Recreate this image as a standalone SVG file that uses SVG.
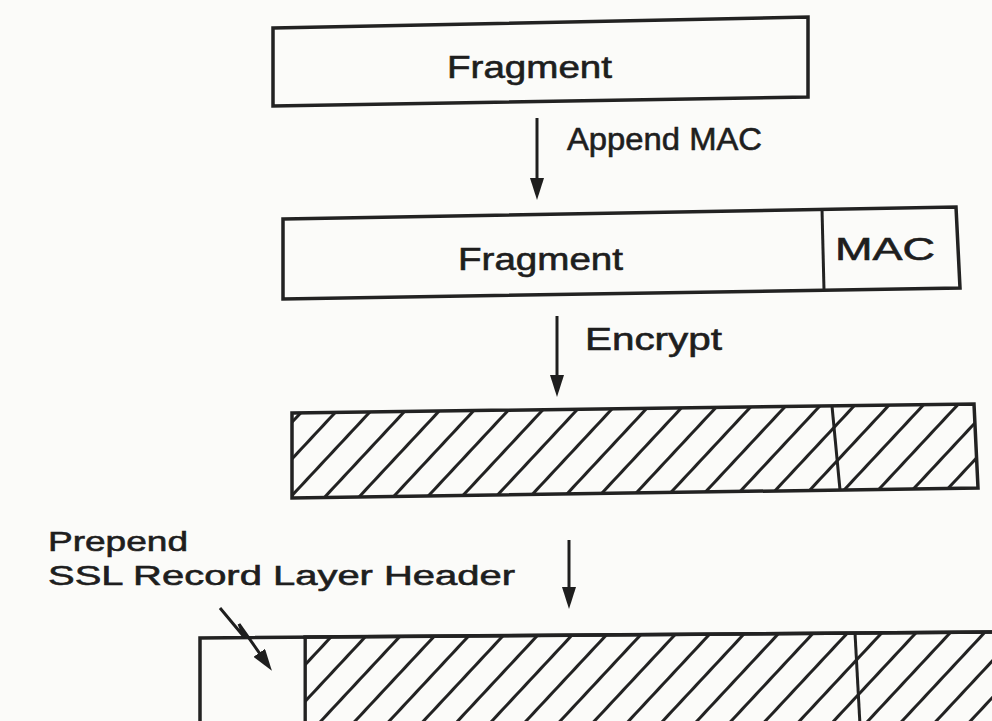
<svg xmlns="http://www.w3.org/2000/svg" width="992" height="721" viewBox="0 0 992 721">
  <style>
    .box { fill: none; stroke: #222; stroke-width: 3.5; stroke-linejoin: miter; }
    .hatched { fill: url(#hatch); stroke: #222; stroke-width: 3.5; }
    .div { stroke: #222; stroke-width: 3; }
    .lbl { font-family: "Liberation Sans", Arial, sans-serif; font-size: 31px; fill: #1e1e1e; stroke: #1e1e1e; stroke-width: 0.6; }
    .sm { font-size: 28px; }
    .conn { stroke: #1e1e1e; stroke-width: 3; fill: none; }
  </style>
  <defs>
    <pattern id="hatch" patternUnits="userSpaceOnUse" width="25" height="25" patternTransform="rotate(43)">
      <rect width="25" height="25" fill="#fbfbf9"/>
      <line x1="0" y1="-2" x2="0" y2="27" stroke="#222" stroke-width="6"/>
    </pattern>
    <marker id="ah" viewBox="0 0 22 14" markerWidth="22" markerHeight="14" refX="10" refY="7" orient="auto" markerUnits="userSpaceOnUse">
      <path d="M0,0 L22,7 L0,14 z" fill="#1e1e1e"/>
    </marker>
  </defs>
  <rect width="992" height="721" fill="#fbfbf9"/>

  <g id="box1">
    <polygon class="box" points="273,28 808,17 808,97 273,106"/>
    <text class="lbl" x="447" y="78" textLength="165" lengthAdjust="spacingAndGlyphs">Fragment</text>
  </g>

  <g id="box2">
    <polygon class="box" points="283,219 956,207 960,288 283,299"/>
    <line class="div" x1="822" y1="209" x2="824" y2="290"/>
    <text class="lbl" x="458" y="270" textLength="165" lengthAdjust="spacingAndGlyphs">Fragment</text>
    <text class="lbl" x="835" y="260" textLength="100" lengthAdjust="spacingAndGlyphs">MAC</text>
  </g>

  <g id="box3">
    <polygon class="hatched" points="292,413 974,404 978,488 292,498"/>
    <line class="div" x1="832" y1="406" x2="840" y2="490"/>
  </g>

  <g id="box4">
    <polygon class="hatched" points="305,637 995,632 995,725 305,725"/>
    <rect x="200" y="639" width="105" height="86" fill="#fbfbf9"/>
    <polyline class="box" points="200,725 200,638 995,632"/>
    <line class="div" x1="305" y1="637" x2="305" y2="725"/>
    <line class="div" x1="855" y1="633" x2="860" y2="725"/>
  </g>

  <g id="labels">
    <text class="lbl" x="567" y="150" textLength="195" lengthAdjust="spacingAndGlyphs">Append MAC</text>
    <text class="lbl" x="585" y="350" textLength="137" lengthAdjust="spacingAndGlyphs">Encrypt</text>
    <text class="lbl sm" x="48" y="551" textLength="140" lengthAdjust="spacingAndGlyphs">Prepend</text>
    <text class="lbl sm" x="48" y="585" textLength="467" lengthAdjust="spacingAndGlyphs">SSL Record Layer Header</text>
  </g>

  <g id="connectors">
    <line class="conn" x1="537" y1="118" x2="537" y2="188" marker-end="url(#ah)"/>
    <line class="conn" x1="557" y1="316" x2="557" y2="385" marker-end="url(#ah)"/>
    <line class="conn" x1="569" y1="540" x2="569" y2="597" marker-end="url(#ah)"/>
    <path class="conn" d="M220,608 L245,638 L239,624 L265,661" marker-end="url(#ah)"/>
  </g>
</svg>
